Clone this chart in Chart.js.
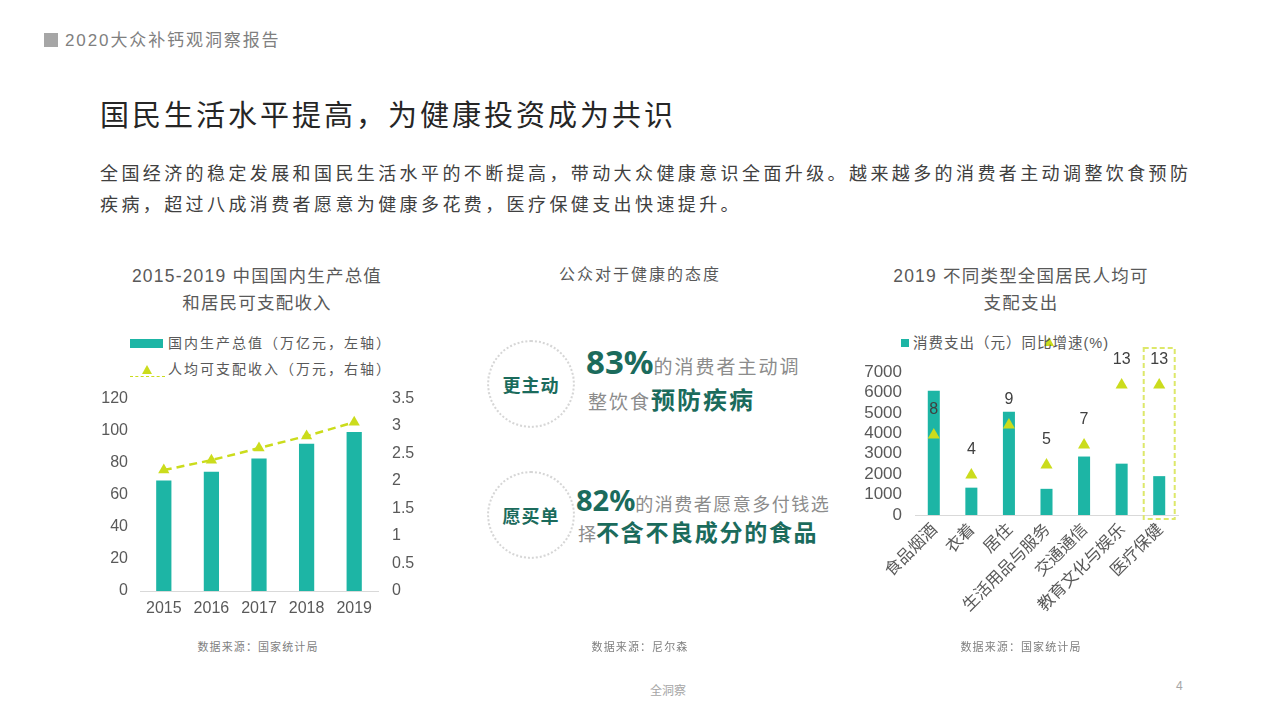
<!DOCTYPE html>
<html>
<head>
<meta charset="utf-8">
<script src="https://cdn.jsdelivr.net/npm/chart.js@4.4.1/dist/chart.umd.min.js"></script>
<style>
  body { margin: 0; background: #fff; }
  #page { position: relative; width: 1280px; height: 720px; overflow: hidden;
    font-family: "Liberation Sans", "Noto Sans CJK SC", sans-serif; }
  .t { position: absolute; white-space: nowrap; }
  .teal { color: #1b6b5c; font-weight: bold; }
  .gray { color: #8c8c8c; }
  .box { position: absolute; }
  .circle { position: absolute; width: 84px; height: 84px; border: 2px dotted #d6d6d6; border-radius: 50%;
    display: flex; align-items: center; justify-content: center; font-family: "Noto Sans CJK SC"; font-weight: bold;
    font-size: 18px; color: #1b6b5c; letter-spacing: 1px; }
  .src { position: absolute; top: 638px; width: 200px; text-align: center; font-size: 11px; letter-spacing: 1.1px;
    color: #7f7f7f; font-family: "Noto Sans CJK SC"; }
</style>
</head>
<body>
<div id="page">
  <div class="box" style="left:44px;top:33px;width:14px;height:14px;background:#a6a6a6"></div>
  <div class="t" style="left:65px;top:30px;font-size:17px;line-height:22px;letter-spacing:1.9px;color:#7f7f7f">2020大众补钙观洞察报告</div>
  <div class="t" style="left:100px;top:95px;font-size:29px;line-height:36px;letter-spacing:3px;color:#262626;font-family:'Noto Sans CJK SC'">国民生活水平提高，为健康投资成为共识</div>
  <div class="t" style="left:100px;top:157px;font-size:18px;line-height:31px;letter-spacing:3.4px;color:#404040;font-family:'Noto Sans CJK SC'">全国经济的稳定发展和国民生活水平的不断提高，带动大众健康意识全面升级。越来越多的消费者主动调整饮食预防<br>疾病，超过八成消费者愿意为健康多花费，医疗保健支出快速提升。</div>

  <!-- left chart -->
  <div class="t" style="left:107px;width:300px;top:263px;text-align:center;font-size:17.5px;line-height:27px;letter-spacing:1.2px;color:#595959">2015-2019 中国国内生产总值<br>和居民可支配收入</div>
  <div class="box" style="left:130px;top:339px;width:33px;height:9px;background:#1db5a5"></div>
  <div class="t" style="left:168px;top:333px;font-size:14px;line-height:20px;letter-spacing:2px;color:#595959">国内生产总值（万亿元，左轴）</div>
  <div class="box" style="left:130px;top:376px;width:35px;height:0;border-top:1.5px dashed #cbdc1c"></div>
  <div class="box" style="left:142px;top:365px;width:0;height:0;border-left:5px solid transparent;border-right:5px solid transparent;border-bottom:9px solid #cbdc1c"></div>
  <div class="t" style="left:168px;top:359px;font-size:14px;line-height:20px;letter-spacing:2px;color:#595959">人均可支配收入（万元，右轴）</div>
  <div class="box" style="left:100px;top:375px;width:320px;height:245px"><canvas id="c1"></canvas></div>

  <!-- middle -->
  <div class="t" style="left:540px;width:200px;top:262px;text-align:center;font-size:16px;line-height:22px;letter-spacing:2px;color:#595959;font-family:'Noto Sans CJK SC'">公众对于健康的态度</div>
  <div class="circle" style="left:487px;top:340px">更主动</div>
  <div class="circle" style="left:487px;top:471px">愿买单</div>
  <div class="t" style="left:586px;top:344px;line-height:36px">
    <span class="teal" style="font-family:'Noto Sans';font-size:33px">83%</span><span class="gray" style="font-size:19px;letter-spacing:2px;font-family:'Noto Sans CJK SC'">的消费者主动调</span>
  </div>
  <div class="t" style="left:588px;top:384px;line-height:30px;font-family:'Noto Sans CJK SC'">
    <span class="gray" style="font-size:19px;letter-spacing:2px">整饮食</span><span class="teal" style="font-size:24px;letter-spacing:2px">预防疾病</span>
  </div>
  <div class="t" style="left:576px;top:483px;line-height:34px">
    <span class="teal" style="font-family:'Noto Sans';font-size:29px">82%</span><span class="gray" style="font-size:18px;letter-spacing:1.5px;font-family:'Noto Sans CJK SC'">的消费者愿意多付钱选</span>
  </div>
  <div class="t" style="left:578px;top:517px;line-height:28px;font-family:'Noto Sans CJK SC'">
    <span class="gray" style="font-size:18px">择</span><span class="teal" style="font-size:23px;letter-spacing:1.7px">不含不良成分的食品</span>
  </div>

  <!-- right chart -->
  <div class="t" style="left:871px;width:300px;top:263px;text-align:center;font-size:17.5px;line-height:27px;letter-spacing:1.2px;color:#595959">2019 不同类型全国居民人均可<br>支配支出</div>
  <div class="box" style="left:901px;top:339px;width:8px;height:8px;background:#1db5a5"></div>
  <div class="box" style="left:1044px;top:337px;width:0;height:0;border-left:5px solid transparent;border-right:5px solid transparent;border-bottom:9px solid #cbdc1c"></div>
  <div class="t" style="left:913px;top:332px;font-size:14.5px;line-height:22px;letter-spacing:1px;color:#595959">消费支出（元）同比增速(%)</div>
  <div class="box" style="left:850px;top:335px;width:340px;height:305px"><canvas id="c2"></canvas></div>

  <div class="src" style="left:158px">数据来源：国家统计局</div>
  <div class="src" style="left:540px">数据来源：尼尔森</div>
  <div class="src" style="left:921px">数据来源：国家统计局</div>
  <div class="t" style="left:628px;width:80px;top:681px;text-align:center;font-size:12px;color:#a6a6a6;font-family:'Noto Sans CJK SC'">全洞察</div>
  <div class="t" style="left:1176px;top:679px;font-size:12px;color:#a6a6a6">4</div>
</div>

<script>
// left chart data
const years = ['2015', '2016', '2017', '2018', '2019'];
const gdp = [68.9, 74.4, 82.7, 91.9, 99.1];          // 万亿元
const income = [2.20, 2.38, 2.60, 2.82, 3.07];       // 万元

// right chart data
const spendCats = ['食品烟酒', '衣着', '居住', '生活用品与服务', '交通通信', '教育文化与娱乐', '医疗保健'];
const spend = [6084, 1338, 5055, 1281, 2862, 2513, 1902]; // 元
const growth = [8, 4, 9, 5, 7, 13, 13];                   // %

const TEAL = '#1db5a5';
const LIME = '#cbdc1c';
const AXIS_TXT = '#595959';
const numFont = { family: '"Liberation Sans", "Noto Sans CJK SC"', size: 16 };

Chart.defaults.font.family = numFont.family;
Chart.defaults.color = AXIS_TXT;

new Chart(document.getElementById('c1'), {
  type: 'bar',
  data: {
    labels: years,
    datasets: [{
      type: 'line',
      data: income,
      yAxisID: 'y1',
      borderColor: LIME,
      borderWidth: 2.5,
      borderDash: [8, 5],
      pointStyle: 'triangle',
      pointRadius: 6.5,
      pointBackgroundColor: LIME,
      pointBorderWidth: 0,
      order: 0
    }, {
      data: gdp,
      yAxisID: 'y',
      backgroundColor: TEAL,
      barPercentage: 0.32,
      categoryPercentage: 1,
      order: 1
    }]
  },
  options: {
    responsive: true,
    maintainAspectRatio: false,
    animation: false,
    layout: { padding: { top: 0 } },
    plugins: { legend: { display: false }, tooltip: { enabled: false } },
    scales: {
      x: {
        grid: { display: false, drawTicks: false },
        border: { color: '#d9d9d9' },
        ticks: { font: numFont, padding: 8 },
        afterFit: s => { s.height = 29; }
      },
      y: {
        position: 'left',
        min: 0, max: 120,
        grid: { display: false, drawTicks: false },
        border: { display: false },
        ticks: { stepSize: 20, font: numFont, padding: 12, autoSkip: false },
        afterFit: s => { s.width = 40; }
      },
      y1: {
        position: 'right',
        min: 0, max: 3.5,
        grid: { display: false, drawTicks: false },
        border: { display: false },
        ticks: { stepSize: 0.5, font: numFont, padding: 14, autoSkip: false, callback: v => String(Math.round(v * 10) / 10) },
        afterFit: s => { s.width = 42; }
      }
    }
  }
});

// labels over the triangles + dashed box around 医疗保健
const extras = {
  id: 'extras',
  afterDatasetsDraw(chart) {
    const ctx = chart.ctx;
    const meta = chart.getDatasetMeta(0);
    ctx.save();
    ctx.fillStyle = '#404040';
    ctx.font = '16px "Liberation Sans"';
    ctx.textAlign = 'center';
    ctx.textBaseline = 'middle';
    meta.data.forEach((pt, i) => {
      ctx.fillText(String(growth[i]), pt.x, pt.y - 25);
    });
    const xs = chart.scales.x;
    const cx = xs.getPixelForValue(spendCats.length - 1);
    const area = chart.chartArea;
    ctx.strokeStyle = '#dde86a';
    ctx.lineWidth = 2;
    ctx.setLineDash([5, 3]);
    ctx.strokeRect(cx - 15.5, area.top - 24, 31, area.bottom - area.top + 28);
    ctx.restore();
  }
};

new Chart(document.getElementById('c2'), {
  type: 'bar',
  data: {
    labels: spendCats,
    datasets: [{
      type: 'line',
      data: growth,
      yAxisID: 'y1',
      showLine: false,
      pointStyle: 'triangle',
      pointRadius: 7,
      pointBackgroundColor: LIME,
      pointBorderWidth: 0,
      order: 0
    }, {
      data: spend,
      yAxisID: 'y',
      backgroundColor: TEAL,
      barPercentage: 0.32,
      categoryPercentage: 1,
      order: 1
    }]
  },
  options: {
    responsive: true,
    maintainAspectRatio: false,
    animation: false,
    layout: { padding: { top: 37, right: 12 } },
    plugins: { legend: { display: false }, tooltip: { enabled: false } },
    scales: {
      x: {
        grid: { display: false, drawTicks: false },
        border: { color: '#d9d9d9' },
        ticks: { font: { family: '"Noto Sans CJK SC"', size: 16.5 }, minRotation: 45, maxRotation: 45, padding: 4, autoSkip: false },
        afterFit: s => { s.height = 125; }
      },
      y: {
        min: 0, max: 7000,
        grid: { display: false, drawTicks: false },
        border: { display: false },
        ticks: { stepSize: 1000, font: { family: numFont.family, size: 17 }, padding: 13, autoSkip: false, callback: v => String(v) },
        afterFit: s => { s.width = 65; }
      },
      y1: {
        display: false,
        min: 0, max: 14.3
      }
    }
  },
  plugins: [extras]
});
</script>
</body>
</html>
